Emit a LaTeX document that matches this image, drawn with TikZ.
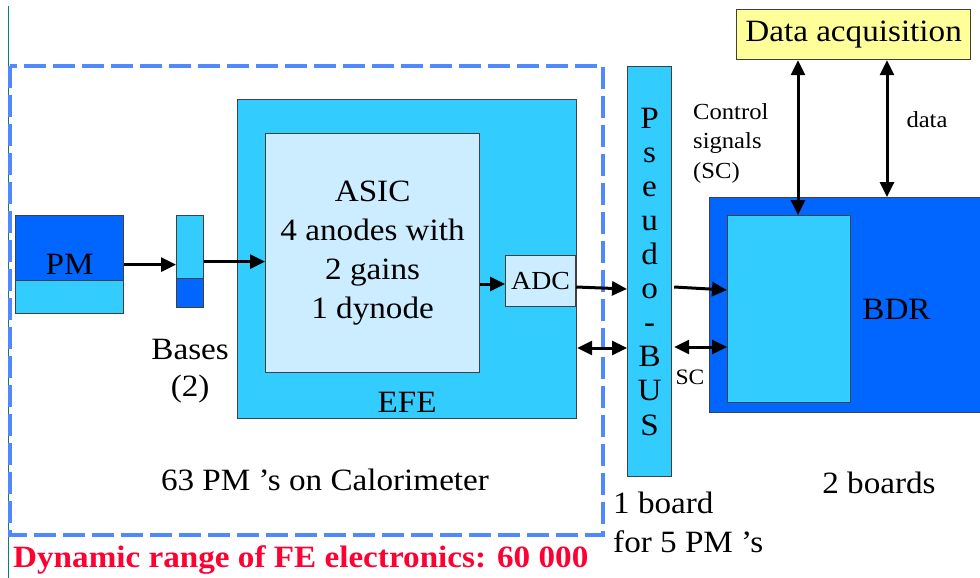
\documentclass[tikz,border=0pt]{standalone}
\usepackage{fontspec}
\setmainfont{Liberation Serif}
\newfontfamily\tnr{Liberation Serif}[FakeStretch=1.07]
\usetikzlibrary{arrows.meta,positioning}
\definecolor{busblue}{RGB}{51,204,255}
\definecolor{deepblue}{RGB}{0,102,255}
\definecolor{paleblue}{RGB}{204,236,255}
\definecolor{daqyellow}{RGB}{255,255,153}
\definecolor{frameblue}{RGB}{80,136,255}
\definecolor{rangered}{RGB}{255,0,51}
\definecolor{edgeteal}{RGB}{0,128,128}
\newcommand{\bigtxt}{\tnr\fontsize{31}{39}\selectfont}
\newcommand{\smalltxt}{\tnr\fontsize{23}{29.5}\selectfont}

\tikzset{
  blk/.style={draw=black!75,line width=1.2pt,inner sep=0pt,anchor=north west},
  sig/.style={line width=3pt,-{Triangle[length=15pt,width=14pt]}},
  bisig/.style={line width=3pt,{Triangle[length=15pt,width=14pt]}-{Triangle[length=15pt,width=14pt]}},
}

\begin{document}
\begin{tikzpicture}[x=1pt,y=-1pt,font=\bigtxt,inner sep=0pt]
  \useasboundingbox (0,0) rectangle (980,578);
  \draw[edgeteal,line width=0.8pt] (8,6) -- (8,578);
  % front-end area
  \draw[frameblue,line width=4pt,dash pattern=on 22pt off 7pt] (10,66) rectangle (603,535);
  \node[blk,fill=deepblue,minimum width=108pt,minimum height=98pt,
    path picture={\fill[busblue] (path picture bounding box.south west) rectangle ([yshift=33pt]path picture bounding box.south east);
      \draw[black!75,line width=1.2pt] ([yshift=33pt]path picture bounding box.south west) -- ([yshift=33pt]path picture bounding box.south east);}]
    (pm) at (15,215) {PM};
  \node[blk,fill=busblue,minimum width=27pt,minimum height=92pt,
    path picture={\fill[deepblue] (path picture bounding box.south west) rectangle ([yshift=29pt]path picture bounding box.south east);
      \draw[black!75,line width=1.2pt] ([yshift=29pt]path picture bounding box.south west) -- ([yshift=29pt]path picture bounding box.south east);}]
    (bases) at (176,215) {};
  \node[below=31pt of bases.south,align=center,font=\tnr\fontsize{31}{37}\selectfont] (baseslbl) {Bases\\(2)};
  \node[blk,fill=busblue,minimum width=339pt,minimum height=319pt] (efe) at (237,99) {};
  \node[above=7pt of efe.south] (efelbl) {EFE};
  \node[blk,fill=paleblue,minimum width=214pt,minimum height=239pt,align=center,font=\tnr\fontsize{31}{39.3}\selectfont]
    (asic) at (265,133) {ASIC\\4 anodes with\\2 gains\\1 dynode};
  \node[blk,fill=paleblue,minimum width=70pt,minimum height=51pt,font=\tnr\fontsize{26}{30}\selectfont] (adc) at (505,255) {ADC};
  \node (calo) at (325,480) {63 PM ’s on Calorimeter};
  % bus and read-out
  \node[blk,fill=busblue,minimum width=44pt,minimum height=410pt,align=center,font=\tnr\fontsize{31}{34.1}\selectfont]
    (bus) at (627,66) {P\\s\\e\\u\\d\\o\\-\\B\\U\\S};
  \node[anchor=north west,align=left] (buslbl) at (613,492) {1 board\\for 5 PM ’s};
  \node[blk,fill=deepblue,minimum width=272pt,minimum height=215pt] (bdr) at (709,197) {};
  \node[blk,fill=busblue,minimum width=123pt,minimum height=187pt] (bdrin) at (727,215) {};
  \node[right=11pt of bdrin] (bdrlbl) {BDR};
  \node (boards) at (879,483) {2 boards};
  \node[blk,fill=daqyellow,minimum width=234pt,minimum height=50pt] (daq) at (736,9) {Data acquisition};
  \node[anchor=west,align=left,font=\smalltxt] (sclbl) at (693,143) {Control\\signals\\(SC)};
  \node[font=\smalltxt] (datalbl) at (927,120) {data};
  \node[font=\tnr\fontsize{22}{26}\selectfont] (sc) at (690,377) {SC};
  \node[anchor=west,text=rangered,font=\tnr\fontsize{31}{34}\selectfont\bfseries] (range) at (13,560) {Dynamic range of FE electronics: 60 000};
  % signals
  \draw[sig] (pm.east) -- (bases.west |- pm.east);
  \draw[sig] (bases.east) -- (asic.west |- bases.east);
  \draw[sig] (asic.east |- 0,284) -- (adc.west |- 0,284);
  \draw[sig] (adc.east |- 0,287) -- (bus.west |- 0,289);
  \draw[bisig] (efe.east |- 0,348) -- (bus.west |- 0,348);
  \draw[sig] ([xshift=2pt]bus.east |- 0,287) -- (bdrin.west |- 0,290);
  \draw[bisig] ([xshift=2pt]bus.east |- 0,347) -- (bdrin.west |- 0,347);
  \draw[bisig] (daq.south -| 798,0) -- (bdrin.north -| 798,0);
  \draw[bisig] (daq.south -| 887,0) -- (bdr.north -| 887,0);
\end{tikzpicture}
\end{document}
